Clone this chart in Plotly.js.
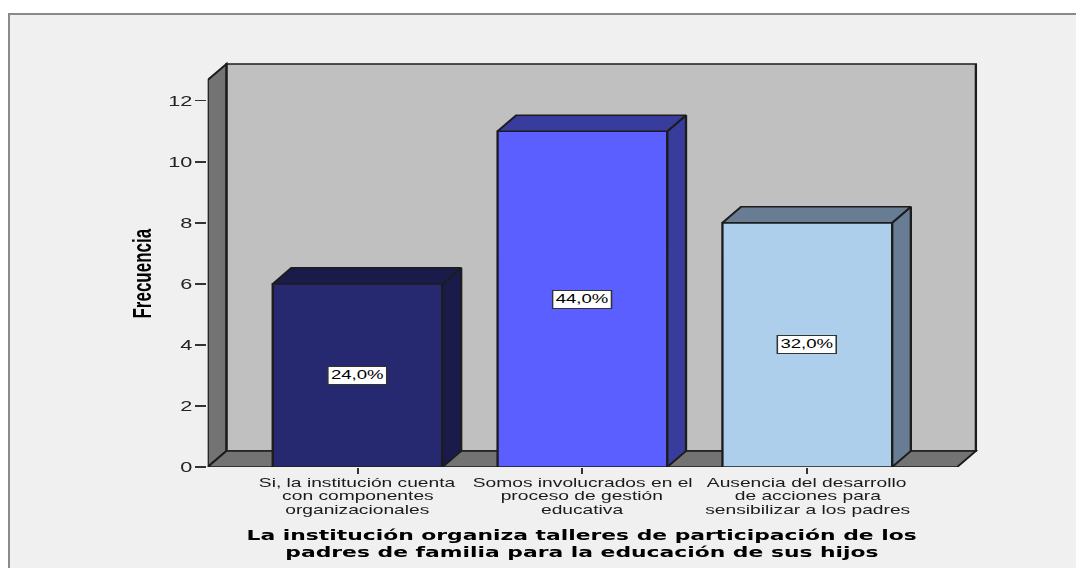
<!DOCTYPE html>
<html>
<head>
<meta charset="utf-8">
<script src="https://cdn.plot.ly/plotly-3.0.1.min.js"></script>
<style>
  html, body { margin: 0; padding: 0; background: #ffffff; width: 1076px; height: 568px; overflow: hidden; }
  #frame { position: absolute; left: 8px; top: 13px; width: 1200px; height: 700px;
           background: #f0f0f0; border-left: 2px solid #8a8a8a; border-top: 2px solid #8a8a8a; }
  #chart { position: absolute; left: 0; top: 0; height: 568px; transform-origin: 0 0; }
</style>
</head>
<body>
<div id="frame"></div>
<div id="chart"></div>
<script>
// ---------------- data ----------------
const categories = [
  "Si, la institución cuenta<br>con componentes<br>organizacionales",
  "Somos involucrados en el<br>proceso de gestión<br>educativa",
  "Ausencia del desarrollo<br>de acciones para<br>sensibilizar a los padres"
];
const frecuencia = [6, 11, 8];
const yTickVals = [0, 2, 4, 6, 8, 10, 12];
const yTickText = ["0", "2", "4", "6", "8", "10", "12"];
const yTitle = "Frecuencia";
const xTitleLines = [
  "La institución organiza talleres de participación de los",
  "padres de familia para la educación de sus hijos"
];

// ---------------- style ----------------
const frontColors = ["#262970", "#5b5fff", "#aecfec"];
const sideColors  = ["#1a1b4b", "#383c9c", "#687d94"];
const wallColor = "#737373", backColor = "#c0c0c0", edge = "#1c1c1c";
const STRETCH = 1.55;                // the original chart is stretched horizontally
const W = 1076 / STRETCH, H = 568;
const PX_PER_CAT = 225, PX_PER_UNIT = 30.5, X0_PX = 358, Y0_PX = 467; // reference geometry
const BAR_W = 0.755;                 // bar width in category units
const DX = 0.083, DY = 0.525;        // 3-D depth offset in data units
const XL = -0.6667, XFR = 2.6667, XR = 2.78;   // floor front edges & axis right
const YTOP = 12.68, YR = 13.4;                 // wall height & axis top
const LABEL_FONT = "Liberation Sans, Arial, sans-serif";
const TITLE_FONT = "DejaVu Sans, Verdana, sans-serif";
const EDGE_W = 1.5;

const total = frecuencia.reduce((a, b) => a + b, 0);
const xs = frecuencia.map((_, i) => i);
const hw = BAR_W / 2;

function poly(pts, fill) {
  return { type: "scatter", mode: "lines", x: pts.map(p => p[0]), y: pts.map(p => p[1]),
           fill: "toself", fillcolor: fill, line: { color: edge, width: EDGE_W },
           hoverinfo: "skip", showlegend: false };
}
function pathShape(pts, fill) {
  return { type: "path", xref: "x", yref: "y", layer: "below",
           path: "M" + pts.map(p => p[0] + "," + p[1]).join("L") + "Z",
           fillcolor: fill, line: { color: edge, width: EDGE_W } };
}

// walls & floor (drawn beneath the bars)
const shapes = [
  pathShape([[XL + DX, DY], [XFR + DX, DY], [XFR + DX, YTOP + DY], [XL + DX, YTOP + DY]], backColor),
  pathShape([[XL, 0], [XL + DX, DY], [XL + DX, YTOP + DY], [XL, YTOP]], wallColor),
  pathShape([[XL, 0], [XFR, 0], [XFR + DX, DY], [XL + DX, DY]], wallColor)
];

const traces = [];
// front faces
traces.push({
  type: "bar", x: xs, y: frecuencia, width: BAR_W,
  marker: { color: frontColors, line: { color: edge, width: EDGE_W } },
  hoverinfo: "skip", showlegend: false
});
// side and top faces of bars
frecuencia.forEach((v, i) => {
  const x0 = xs[i] - hw, x1 = xs[i] + hw;
  traces.push(poly([[x1, 0], [x1 + DX, DY], [x1 + DX, v + DY], [x1, v], [x1, 0]], sideColors[i]));
  traces.push(poly([[x0, v], [x0 + DX, v + DY], [x1 + DX, v + DY], [x1, v], [x0, v]], sideColors[i]));
});

const annotations = [];
// percentage labels
frecuencia.forEach((v, i) => {
  annotations.push({
    x: xs[i], y: v / 2, xref: "x", yref: "y", showarrow: false,
    text: (v / total * 100).toFixed(1).replace(".", ",") + "%",
    font: { family: LABEL_FONT, size: 12, color: "#000" },
    bgcolor: "#ffffff", bordercolor: "#333", borderwidth: 1, borderpad: 1.5,
    xanchor: "center", yanchor: "middle"
  });
});
// category labels (one annotation per line)
const CAT_SIZE = 12.4, CAT_STEP = 13.9;
categories.forEach((c, i) => {
  c.split("<br>").forEach((line, j) => {
    annotations.push({
      x: xs[i], y: 0, xref: "x", yref: "y", showarrow: false, text: line,
      font: { family: LABEL_FONT, size: CAT_SIZE, color: "#1a1a1a" },
      xanchor: "center", yanchor: "middle", yshift: -15.5 - j * CAT_STEP
    });
  });
});
// x title
const XT_SIZE = 14.1, XT_STEP = 16.5;
xTitleLines.forEach((line, j) => {
  annotations.push({
    x: (XL + XFR) / 2, y: 0, xref: "x", yref: "y", showarrow: false, text: line,
    font: { family: TITLE_FONT, size: XT_SIZE, color: "#000", weight: "bold" },
    xanchor: "center", yanchor: "middle", yshift: -68 - j * XT_STEP
  });
});
// y title
annotations.push({
  x: XL, y: YTOP / 2, xref: "x", yref: "y", showarrow: false, text: yTitle,
  textangle: -90, xshift: -65 / STRETCH,
  font: { family: LABEL_FONT, size: 17, color: "#000", weight: "bold" },
  xanchor: "center", yanchor: "middle"
});

const mL = (X0_PX + PX_PER_CAT * XL) / STRETCH;
const plotW = (PX_PER_CAT * (XR - XL)) / STRETCH;
const mB = H - Y0_PX;
const plotH = PX_PER_UNIT * YR;
const layout = {
  width: W, height: H,
  margin: { l: mL, r: W - mL - plotW, t: H - mB - plotH, b: mB, pad: 0 },
  paper_bgcolor: "rgba(0,0,0,0)", plot_bgcolor: "rgba(0,0,0,0)",
  showlegend: false, barmode: "overlay",
  xaxis: { range: [XL, XR], showgrid: false, zeroline: false, showline: false,
           tickmode: "array", tickvals: xs, ticks: "outside", ticklen: 6, tickwidth: 1.3,
           tickcolor: "#333", showticklabels: false, fixedrange: true },
  yaxis: { range: [0, YR], showgrid: false, zeroline: false, showline: false,
           tickmode: "array", tickvals: yTickVals, ticktext: yTickText,
           ticks: "outside", ticklen: 11 / STRETCH, tickwidth: 1.5, tickcolor: "#333",
           tickfont: { family: LABEL_FONT, size: 14, color: "#222" },
           ticklabelstandoff: -1, fixedrange: true },
  shapes: shapes,
  annotations: annotations
};

const el = document.getElementById("chart");
el.style.width = W + "px";
el.style.transform = "scaleX(" + STRETCH + ")";
Plotly.newPlot(el, traces, layout, { staticPlot: true, displayModeBar: false });
</script>
</body>
</html>
